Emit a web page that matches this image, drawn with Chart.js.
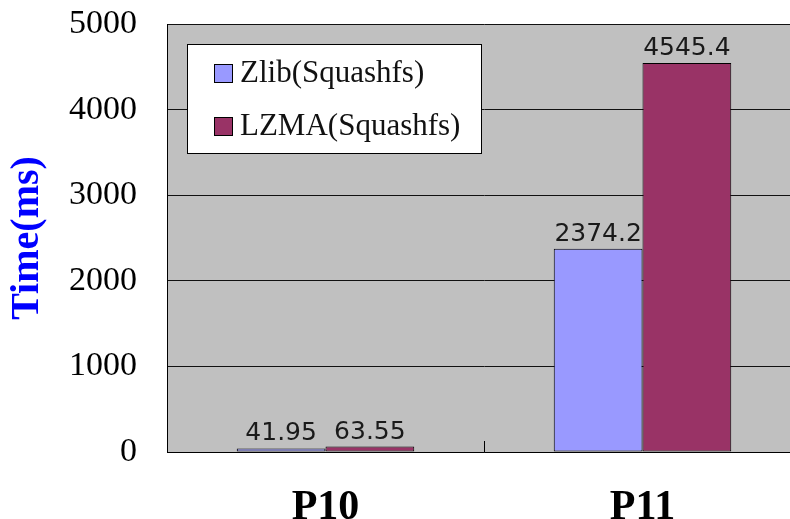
<!DOCTYPE html>
<html>
<head>
<meta charset="utf-8">
<script src="https://cdn.jsdelivr.net/npm/chart.js@4/dist/chart.umd.min.js"></script>
<style>
  html, body { margin: 0; padding: 0; background: #ffffff; overflow: hidden; width: 790px; height: 519px; }
  #wrap { width: 805px; height: 519px; }
</style>
</head>
<body>
<div id="wrap"><canvas id="c" width="805" height="519"></canvas></div>
<script>
const categories = ['P10', 'P11'];
const seriesNames = ['Zlib(Squashfs)', 'LZMA(Squashfs)'];
const zlibValues = [41.95, 2374.2];
const lzmaValues = [63.55, 4545.4];
const valueLabels = [['41.95', '2374.2'], ['63.55', '4545.4']];
const yTicks = [0, 1000, 2000, 3000, 4000, 5000];

const plotBg = {
  id: 'plotBg',
  beforeDraw(chart) {
    const { ctx, chartArea: a } = chart;
    ctx.save();
    ctx.fillStyle = '#c0c0c0';
    ctx.fillRect(a.left, a.top, a.right - a.left, a.bottom - a.top);
    ctx.restore();
  }
};

const extras = {
  id: 'extras',
  afterDatasetsDraw(chart) {
    const { ctx, chartArea: a } = chart;
    const xs = chart.scales.x;
    ctx.save();
    ctx.strokeStyle = '#000';
    ctx.lineWidth = 1;
    for (let i = 0; i < categories.length - 1; i++) {
      const bx = Math.round((xs.getPixelForValue(i) + xs.getPixelForValue(i + 1)) / 2) + 0.5;
      ctx.beginPath();
      ctx.moveTo(bx, a.bottom);
      ctx.lineTo(bx, a.bottom - 11);
      ctx.stroke();
    }
    ctx.fillStyle = '#1a1a1a';
    ctx.font = '25px "DejaVu Sans"';
    ctx.textAlign = 'center';
    ctx.textBaseline = 'alphabetic';
    chart.data.datasets.forEach((ds, di) => {
      const meta = chart.getDatasetMeta(di);
      meta.data.forEach((bar, i) => {
        ctx.fillText(valueLabels[di][i], bar.x, bar.y - 8);
      });
    });
    const lx = a.left + 20, ly = a.top + 20, lw = 294, lh = 109;
    ctx.fillStyle = '#ffffff';
    ctx.fillRect(lx, ly, lw, lh);
    ctx.strokeStyle = '#000';
    ctx.strokeRect(lx + 0.5, ly + 0.5, lw, lh);
    ctx.font = '31px "Liberation Serif"';
    ctx.textAlign = 'left';
    ctx.textBaseline = 'middle';
    const rows = [ly + 29, ly + 82];
    chart.data.datasets.forEach((ds, di) => {
      const cy = rows[di];
      ctx.fillStyle = ds.backgroundColor;
      ctx.fillRect(lx + 27, cy - 9, 18, 18);
      ctx.strokeStyle = '#000';
      ctx.strokeRect(lx + 27.5, cy - 8.5, 18, 18);
      ctx.fillStyle = '#111';
      ctx.fillText(ds.label, lx + 53, cy + 1);
    });
    ctx.restore();
  }
};

new Chart(document.getElementById('c'), {
  type: 'bar',
  data: {
    labels: categories,
    datasets: [
      { label: seriesNames[0], data: zlibValues, backgroundColor: '#9999ff', borderColor: '#000', borderWidth: 1, borderSkipped: false },
      { label: seriesNames[1], data: lzmaValues, backgroundColor: '#993366', borderColor: '#000', borderWidth: 1, borderSkipped: false }
    ]
  },
  options: {
    responsive: false,
    animation: false,
    events: [],
    layout: { padding: { top: 24, right: 4, left: 0, bottom: 0 } },
    datasets: { bar: { categoryPercentage: 0.56, barPercentage: 1.0 } },
    plugins: { legend: { display: false }, tooltip: { enabled: false } },
    scales: {
      x: {
        grid: { display: false },
        border: { display: true, color: '#000', width: 1 },
        ticks: { color: '#000', font: { family: 'Liberation Serif', size: 42, weight: 'bold' }, padding: 23 },
        afterFit(s) { s.height = 67; s.paddingLeft = 0; s.paddingRight = 0; }
      },
      y: {
        min: 0, max: 5000,
        afterBuildTicks(s) { s.ticks = yTicks.map(v => ({ value: v })); },
        grid: { color: '#111', lineWidth: 1, drawTicks: false },
        border: { display: true, color: '#000', width: 1 },
        ticks: { color: '#000', font: { family: 'Liberation Serif', size: 34 }, padding: 30, callback: (v) => String(v) },
        title: { display: true, text: 'Time(ms)', color: '#0000ff', font: { family: 'Liberation Serif', size: 40, weight: 'bold' }, padding: { top: 4, bottom: 0 } },
        afterFit(s) { s.width = 167; s.paddingTop = 0; s.paddingBottom = 0; }
      }
    }
  },
  plugins: [plotBg, extras]
});
</script>
</body>
</html>
